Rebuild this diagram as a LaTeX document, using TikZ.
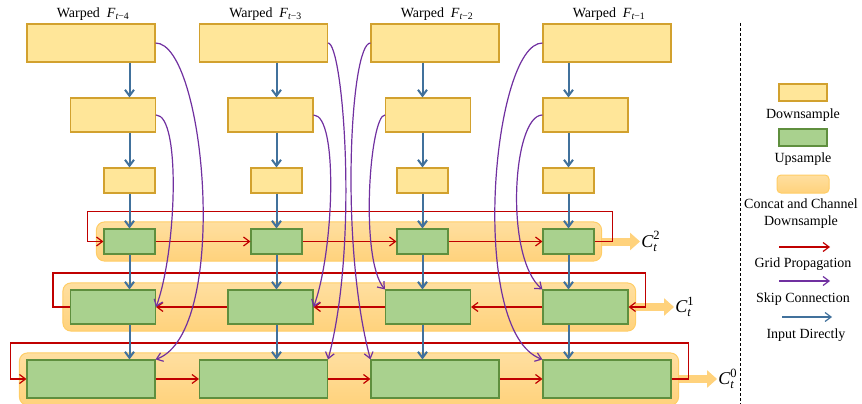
\documentclass[tikz,border=0pt]{standalone}
\usepackage{amsmath}
\usepackage{fontspec}
\setmainfont{Liberation Serif}
\usetikzlibrary{arrows.meta,positioning,fit,backgrounds}

\definecolor{dsfill}{HTML}{FFE699}
\definecolor{dsline}{HTML}{D2A12E}
\definecolor{usfill}{HTML}{A9D18E}
\definecolor{usline}{HTML}{5F8F3E}
\definecolor{cctop}{HTML}{FFDFA0}
\definecolor{ccbot}{HTML}{FFD27C}
\definecolor{ccline}{HTML}{FFCD66}
\definecolor{gridred}{HTML}{C00000}
\definecolor{skippurple}{HTML}{7030A0}
\definecolor{inblue}{HTML}{41719C}

\tikzset{
  dsbox/.style={draw=dsline, fill=dsfill, line width=1.1pt, inner sep=0pt},
  usbox/.style={draw=usline, fill=usfill, line width=1.1pt, inner sep=0pt},
  ccbox/.style={draw=ccline, top color=cctop, bottom color=ccbot, line width=1pt, rounded corners=8pt},
  gridline/.style={gridred, line width=1.2pt},
  skipline/.style={skippurple, line width=1.2pt},
  inputline/.style={inblue, line width=2pt},
  outarrow/.style={ccbot, line width=8pt, -{Triangle[length=10pt,width=17pt]}},
  lbl/.style={inner sep=0pt},
}

\begin{document}
\begin{tikzpicture}[x=1pt, y=1pt, >={Straight Barb[length=6pt,width=9pt]},
    font=\fontsize{14}{17}\selectfont]
    \def \wa {128pt} % widths of the three levels
    \def \wb {85pt}
    \def \wc {51pt}
    \useasboundingbox (0,0) rectangle (862,-404);
    \foreach \c/\xa/\xb/\xc in {1/91/113/129.5, 2/263.5/270.5/276.5, 3/435/428/422.5, 4/607/585.5/568.5}
    {
      \node[dsbox, minimum width=\wa, minimum height=38pt] (d0-\c) at (\xa,-43) {};
      \node[dsbox, minimum width=\wb, minimum height=34pt] (d1-\c) at (\xb,-115) {};
      \node[dsbox, minimum width=\wc, minimum height=25pt] (d2-\c) at (\xc,-180.5) {};
      \node[usbox, minimum width=\wc, minimum height=25pt] (u2-\c) at (\xc,-241.5) {};
      \node[usbox, minimum width=\wb, minimum height=34pt] (u1-\c) at (\xb,-307) {};
      \node[usbox, minimum width=\wa, minimum height=38pt] (u0-\c) at (\xa,-379) {};
    }
    \foreach \c/\k in {1/4, 2/3, 3/2, 4/1}
      \node[lbl, above=3pt of d0-\c, xshift=2pt] (w-\c) {Warped\enspace$\textit{F}_{\textit{t}\textrm{−\k}}$};

    \begin{scope}[on background layer]
      \foreach \r in {0,1,2}
        \node[ccbox, fit=(u\r-1)(u\r-4), inner xsep=7pt, inner ysep=6.5pt] (cc\r) {};
    \end{scope}
    \foreach \r in {0,1,2}
    {
      \node[right=38pt of cc\r, inner sep=1pt, font=\fontsize{18}{20}\selectfont] (ct\r) {$\textit{C}_{\textit{t}}^{\textrm{\r}}$};
      \draw[outarrow] (cc\r.east) -- (ct\r.west);
    }

    % grid propagation
    \draw[gridline,->] (u2-4.east) -- ++(18,0) -- ++(0,30) -| ([xshift=-16pt]u2-1.west) -- (u2-1.west);
    \draw[gridline,->] (u1-1.west) -- ++(-17,0) -- ++(0,34) -| ([xshift=17pt]u1-4.east) -- (u1-4.east);
    \draw[gridline,->] (u0-4.east) -- ++(17,0) -- ++(0,36) -| ([xshift=-16pt]u0-1.west) -- (u0-1.west);
    \foreach \a/\b in {1/2, 2/3, 3/4}
    {
      \draw[gridline,->] (u2-\a) -- (u2-\b);
      \draw[gridline,->] (u1-\b) -- (u1-\a);
      \draw[gridline,->] (u0-\a) -- (u0-\b);
    }

    % skip connections
    \foreach \src/\dst/\o/\i/\od/\id in {d0-1.east/u0-1.north east/0/20/50/80,
        d1-1.east/u1-1.east/0/70/25/60, d0-2.east/u0-2.north east/0/75/15/120,
        d1-2.east/u1-2.east/0/70/25/60, d0-3.west/u0-3.north west/180/105/20/120,
        d1-3.west/u1-3.north west/180/130/15/40, d0-4.west/u0-4.north west/180/160/50/80,
        d1-4.west/u1-4.north west/180/140/30/50}
      \draw[skipline,->] (\src) to[out=\o, in=\i, out distance=\od pt, in distance=\id pt] (\dst);

    \foreach \c in {1,...,4}
    {
      \draw[inputline,->] (d0-\c.south -| d2-\c) -- (d1-\c.north -| d2-\c);
      \draw[inputline,->] (d1-\c.south -| d2-\c) -- (d2-\c.north);
      \draw[inputline,->] (d2-\c) -- (u2-\c);
      \draw[inputline,->] (u2-\c.south) -- (u1-\c.north -| u2-\c);
      \draw[inputline,->] (u1-\c.south -| u2-\c) -- (u0-\c.north -| u2-\c);
    }

    % legend
    \draw[dash pattern=on 3pt off 2pt, line width=.8pt] (740,-23) -- (740,-404);
    \node[dsbox, minimum width=48pt, minimum height=17pt] (key-ds) at (803,-92.5) {};
    \node[lbl, anchor=base] (txt-ds) at (803,-118) {Downsample};
    \node[usbox, minimum width=48pt, minimum height=17pt] (key-us) at (803,-137.5) {};
    \node[lbl, anchor=base] (txt-us) at (803,-162) {Upsample};
    \node[ccbox, rounded corners=4pt, minimum width=52pt, minimum height=18pt] (key-cc) at (803,-184) {};
    \node[lbl, anchor=north, align=center] (txt-cc) at (801,-198.5) {Concat and Channel\\Downsample};
    \coordinate (key-gr-a) at (779,-247);
    \coordinate (key-gr-b) at (830,-247);
    \draw[gridline,->] (key-gr-a) -- (key-gr-b);
    \node[lbl, anchor=base] (txt-gr) at (803,-267) {Grid Propagation};
    \coordinate (key-sk-a) at (779,-281);
    \coordinate (key-sk-b) at (830,-281);
    \draw[skipline,->] (key-sk-a) -- (key-sk-b);
    \node[lbl, anchor=base] (txt-sk) at (803,-302) {Skip Connection};
    \coordinate (key-in-a) at (782,-317);
    \coordinate (key-in-b) at (832,-317);
    \draw[inputline, line width=1.2pt,->] (key-in-a) -- (key-in-b);
    \node[lbl, anchor=base] (txt-in) at (806,-338) {Input Directly};
\end{tikzpicture}
\end{document}
